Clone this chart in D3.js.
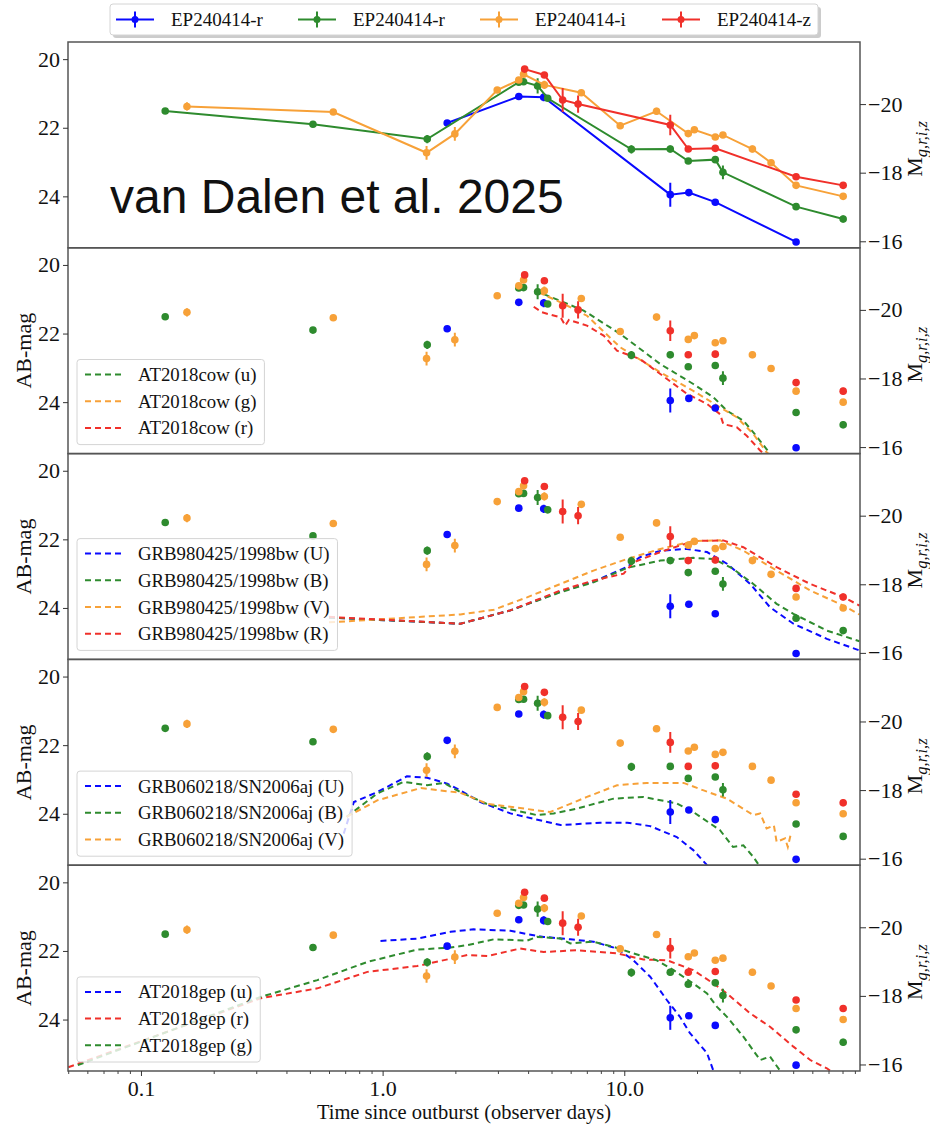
<!DOCTYPE html>
<html lang="en">
<head>
<meta charset="UTF-8">
<title>EP240414 light curves</title>
<script src="https://d3js.org/d3.v7.min.js"></script>
<style>
  body { margin: 0; background: #fff; }
  svg text { font-family: "Liberation Serif", "Times New Roman", serif; fill: #111; }
</style>
</head>
<body>
<svg id="chart"></svg>
<script>
// ---- EP240414 photometry (observer days, AB mag, 1-sigma error) ----
const blueT   = [1.85, 3.66, 4.64, 15.5, 18.5, 23.8, 51.4];
const blueMag = [21.86, 21.09, 21.11, 23.95, 23.89, 24.17, 25.33];
const blueErr = [0.03, 0.03, 0.12, 0.35, 0.05, 0.05, 0.07];

const greenT   = [0.126, 0.515, 1.53, 3.66, 3.83, 4.38, 4.82, 10.7, 15.5, 18.4, 23.8, 25.6, 51.4, 80.5];
const greenMag = [21.51, 21.9, 22.33, 20.67, 20.66, 20.78, 21.14, 22.63, 22.62, 22.97, 22.93, 23.3, 24.3, 24.66];
const greenErr = [0.06, 0.05, 0.12, 0.05, 0.05, 0.22, 0.05, 0.12, 0.1, 0.05, 0.07, 0.2, 0.05, 0.1];

const orangeT   = [0.155, 0.625, 1.52, 1.99, 2.98, 3.66, 3.83, 4.67, 6.64, 9.62, 13.6, 18.4, 19.5, 23.8, 25.6, 33.9, 40.5, 51.4, 80.5];
const orangeMag = [21.38, 21.54, 22.73, 22.18, 20.9, 20.61, 20.44, 20.75, 20.98, 21.94, 21.52, 22.17, 22.06, 22.27, 22.21, 22.62, 23.02, 23.68, 24.0];
const orangeErr = [0.12, 0.05, 0.2, 0.2, 0.04, 0.05, 0.05, 0.12, 0.05, 0.05, 0.1, 0.05, 0.05, 0.05, 0.05, 0.1, 0.05, 0.05, 0.07];

const redT   = [3.87, 4.67, 5.56, 6.44, 15.5, 18.4, 23.8, 51.4, 80.5];
const redMag = [20.29, 20.46, 21.19, 21.31, 21.92, 22.62, 22.6, 23.43, 23.68];
const redErr = [0.04, 0.05, 0.35, 0.25, 0.3, 0.05, 0.1, 0.05, 0.1];

const epLabels = ["EP240414-r", "EP240414-r", "EP240414-i", "EP240414-z"];

// ---- comparison light curves ----
const cowUt = [4.64, 6.79, 9.62, 14.1, 19.3, 23.4, 26.6, 31.1, 34.2, 38.3, 41];
const cowUm = [20.85, 21.33, 22.01, 22.89, 23.47, 23.86, 24.25, 24.54, 24.88, 25.32, 25.6];
const cowGt = [4.42, 5.45, 7.01, 9.62, 14.1, 19.3, 24.9, 29.2, 34.2, 38.8, 41];
const cowGm = [20.80, 21.09, 21.48, 22.40, 23.13, 23.67, 24.15, 24.44, 24.93, 25.46, 25.6];
const cowRt = [4.22, 4.56, 5.45, 5.7, 5.9, 7.01, 8.22, 9.33, 11.6, 14.1, 18.2, 22.0, 24.9, 25.7, 29.2, 32.1, 36.5, 39];
const cowRm = [21.22, 21.38, 21.53, 21.77, 21.6, 21.77, 22.06, 22.5, 22.74, 23.18, 23.76, 24.05, 24.35, 24.64, 24.73, 24.98, 25.41, 25.6];

const bwUt = [0.6, 2.1, 3.38, 5.45, 7.46, 10.3, 11.6, 14.1, 18.2, 22.0, 26.6, 33.2, 40.1, 50.1, 68.9, 94];
const bwUm = [24.28, 24.46, 24.07, 23.52, 23.23, 22.8, 22.52, 22.33, 22.28, 22.37, 22.71, 23.3, 23.98, 24.46, 24.9, 25.24];
const bwBt = [0.6, 2.1, 3.38, 5.45, 7.46, 10.3, 14.1, 19.3, 23.4, 28.2, 34.2, 42.7, 50.1, 68.9, 94];
const bwBm = [24.28, 24.46, 24.07, 23.54, 23.25, 22.83, 22.62, 22.54, 22.57, 22.86, 23.3, 23.88, 24.17, 24.66, 24.97];
const bwVt = [0.6, 2.1, 2.89, 3.96, 5.45, 7.46, 10.3, 14.1, 19.3, 24.9, 31.1, 42.7, 58.8, 80.5, 94];
const bwVm = [24.42, 24.19, 24.05, 23.69, 23.3, 22.91, 22.57, 22.28, 22.05, 22.03, 22.33, 22.91, 23.49, 23.93, 24.19];
const bwRt = [0.6, 2.1, 3.38, 5.45, 7.46, 9.94, 10.9, 14.1, 19.3, 25.7, 31.1, 42.7, 58.8, 80.5, 94];
const bwRm = [24.26, 24.46, 24.07, 23.49, 23.2, 23.0, 22.67, 22.37, 22.05, 22.03, 22.23, 22.81, 23.3, 23.68, 23.93];

const ajUt = [0.69, 0.76, 0.95, 1.26, 1.53, 1.85, 2.1, 2.54, 3.38, 5.45, 7.96, 10.3, 12.8, 16.5, 19.3, 22.0];
const ajUm = [24.58, 23.66, 23.37, 22.91, 22.95, 23.12, 23.32, 23.66, 23.99, 24.33, 24.26, 24.26, 24.36, 24.68, 25.06, 25.5];
const ajBt = [0.71, 0.95, 1.22, 1.53, 1.79, 2.1, 2.71, 4.35, 5.1, 6.37, 9.02, 12.0, 16.5, 19.3, 24.9, 28.2, 31.1, 34.2, 36.5];
const ajBm = [24.09, 23.41, 23.07, 23.17, 23.1, 23.37, 23.72, 24.04, 23.99, 23.85, 23.56, 23.51, 23.7, 23.95, 24.48, 24.97, 24.92, 25.26, 25.55];
const ajVt = [0.71, 0.95, 1.44, 2.1, 2.71, 4.94, 7.01, 9.33, 12.4, 17.6, 21.3, 26.6, 34.2, 36.5, 38.8, 41.6, 42.7, 46.3, 47.5, 49.1];
const ajVm = [24.09, 23.61, 23.25, 23.39, 23.71, 23.95, 23.51, 23.17, 23.1, 23.1, 23.32, 23.56, 24.04, 23.99, 24.43, 24.34, 24.82, 24.72, 24.97, 24.53];

const gepUt = [0.98, 1.39, 1.91, 2.38, 3.38, 3.96, 4.64, 5.98, 7.46, 9.33, 10.9, 12.8, 15.0, 17.0, 18.7, 19.8, 22.0, 23.4];
const gepUm = [21.71, 21.64, 21.44, 21.37, 21.41, 21.51, 21.59, 21.66, 21.73, 21.93, 22.27, 22.75, 23.43, 23.92, 24.4, 24.6, 24.98, 25.5];
const gepRt = [0.05, 0.313, 0.537, 0.865, 1.39, 2.24, 2.71, 3.7, 4.64, 6.37, 9.33, 12.0, 15.0, 19.3, 23.4, 26.6, 33.2, 40.1, 50.1, 58.8, 68.9, 73];
const gepRm = [25.39, 23.38, 23.09, 22.61, 22.44, 22.12, 22.15, 21.93, 22.03, 21.98, 22.07, 22.25, 22.27, 22.56, 22.95, 23.24, 23.82, 24.21, 24.79, 25.18, 25.42, 25.55];
const gepGt = [0.0548, 0.313, 0.537, 0.865, 1.39, 1.91, 2.24, 2.89, 3.96, 4.35, 5.45, 5.98, 7.46, 9.02, 10.9, 13.6, 16.0, 19.3, 22.0, 24.2, 26.6, 31.1, 36.5, 40.1, 43.9];
const gepGm = [25.33, 23.34, 22.85, 22.32, 21.96, 21.9, 21.83, 21.66, 21.7, 21.59, 21.64, 21.78, 21.73, 21.88, 22.07, 22.27, 22.56, 22.95, 23.24, 23.63, 23.92, 24.5, 25.18, 25.08, 25.47];

// axis ticks
const magTicks = [20, 22, 24];
const absTicks = [-20, -18, -16];
const timeTicks = [0.1, 1, 10];
const distMod = 41.31;

// ---- layout ----
const width = 930, height = 1126;
const left = 68, right = 860;
const panelH = 205.8;
const tops = d3.range(5).map(i => 42 + i * panelH);
const bottom = tops[4] + panelH;

const cBlue = "#0a0aff", cGreen = "#2e8b2e", cOrange = "#f7a138", cRed = "#f0302a";
const epColors = [cBlue, cGreen, cOrange, cRed];

const ep = [
  {t: blueT, m: blueMag, e: blueErr},
  {t: greenT, m: greenMag, e: greenErr},
  {t: orangeT, m: orangeMag, e: orangeErr},
  {t: redT, m: redMag, e: redErr}
].map((s, i) => ({label: epLabels[i], color: epColors[i],
  pts: s.t.map((t, j) => ({t, m: s.m[j], e: s.e[j]}))}));

const zip = (t, m) => t.map((d, i) => [d, m[i]]);
const panels = [
  [],
  [
    {label: "AT2018cow (u)", color: cGreen, pts: zip(cowUt, cowUm)},
    {label: "AT2018cow (g)", color: cOrange, pts: zip(cowGt, cowGm)},
    {label: "AT2018cow (r)", color: cRed, pts: zip(cowRt, cowRm)}
  ],
  [
    {label: "GRB980425/1998bw (U)", color: cBlue, pts: zip(bwUt, bwUm)},
    {label: "GRB980425/1998bw (B)", color: cGreen, pts: zip(bwBt, bwBm)},
    {label: "GRB980425/1998bw (V)", color: cOrange, pts: zip(bwVt, bwVm)},
    {label: "GRB980425/1998bw (R)", color: cRed, pts: zip(bwRt, bwRm)}
  ],
  [
    {label: "GRB060218/SN2006aj (U)", color: cBlue, pts: zip(ajUt, ajUm)},
    {label: "GRB060218/SN2006aj (B)", color: cGreen, pts: zip(ajBt, ajBm)},
    {label: "GRB060218/SN2006aj (V)", color: cOrange, pts: zip(ajVt, ajVm)}
  ],
  [
    {label: "AT2018gep (u)", color: cBlue, pts: zip(gepUt, gepUm)},
    {label: "AT2018gep (r)", color: cRed, pts: zip(gepRt, gepRm)},
    {label: "AT2018gep (g)", color: cGreen, pts: zip(gepGt, gepGm)}
  ]
];

const svg = d3.select("#chart")
  .attr("width", width)
  .attr("height", height)
  .attr("viewBox", [0, 0, width, height]);

const x = d3.scaleLog().domain([0.0499, 94.5]).range([left, right]);

const defs = svg.append("defs");

panels.forEach((models, p) => {
  const top = tops[p];
  const y = d3.scaleLinear().domain([19.5, 25.5]).range([top, top + panelH]);
  const yAbs = d3.scaleLinear().domain([19.5 - distMod, 25.5 - distMod]).range([top, top + panelH]);
  const g = svg.append("g");

  defs.append("clipPath").attr("id", "clip" + p)
    .append("rect").attr("x", left).attr("y", top).attr("width", right - left).attr("height", panelH);

  const plot = g.append("g").attr("clip-path", `url(#clip${p})`);
  const line = d3.line().x(d => x(d[0])).y(d => y(d[1]));

  // model curves
  plot.selectAll("path.model").data(models).join("path")
    .attr("class", "model")
    .attr("fill", "none")
    .attr("stroke", d => d.color)
    .attr("stroke-width", 2)
    .attr("stroke-dasharray", "6,4")
    .attr("d", d => line(d.pts));

  // EP240414 data
  ep.forEach(s => {
    const sg = plot.append("g");
    if (p === 0) {
      sg.append("path")
        .attr("fill", "none")
        .attr("stroke", s.color)
        .attr("stroke-width", 2)
        .attr("d", d3.line().x(d => x(d.t)).y(d => y(d.m))(s.pts));
    }
    sg.selectAll("line").data(s.pts).join("line")
      .attr("x1", d => x(d.t)).attr("x2", d => x(d.t))
      .attr("y1", d => y(d.m - d.e)).attr("y2", d => y(d.m + d.e))
      .attr("stroke", s.color).attr("stroke-width", 2);
    sg.selectAll("circle").data(s.pts).join("circle")
      .attr("cx", d => x(d.t)).attr("cy", d => y(d.m))
      .attr("r", 3.8).attr("fill", s.color);
  });

  // frame
  g.append("rect")
    .attr("x", left).attr("y", top).attr("width", right - left).attr("height", panelH)
    .attr("fill", "none").attr("stroke", "#555").attr("stroke-width", 1.5);

  // left axis
  const la = g.append("g").attr("transform", `translate(${left},0)`)
    .call(d3.axisLeft(y).tickValues(magTicks).tickSize(5).tickPadding(3).tickFormat(d3.format("d")));
  la.select(".domain").remove();
  la.selectAll("text").attr("font-size", 22).attr("font-family", "Liberation Serif");
  la.selectAll("line").attr("stroke", "#333");

  // right axis (absolute magnitude)
  const ra = g.append("g").attr("transform", `translate(${right},0)`)
    .call(d3.axisRight(yAbs).tickValues(absTicks).tickSize(6).tickPadding(2).tickFormat(d3.format("d")));
  ra.select(".domain").remove();
  ra.selectAll("text").attr("font-size", 22).attr("font-family", "Liberation Serif");
  ra.selectAll("line").attr("stroke", "#333");

  const cy = top + panelH / 2;
  if (p > 0) {
    g.append("text")
      .attr("transform", `translate(31,${cy}) rotate(-90)`)
      .attr("text-anchor", "middle")
      .attr("font-size", 22)
      .text("AB-mag");
  }
  const mt = g.append("text")
    .attr("transform", `translate(922,${cy + 4}) rotate(-90)`)
    .attr("text-anchor", "middle")
    .attr("font-size", 22);
  mt.append("tspan").text("M");
  mt.append("tspan").attr("font-style", "italic").attr("font-size", 16.5)
    .attr("dy", 5).text("g,r,i,z");

  // legend for comparison curves (lower left)
  if (models.length) {
    const rowH = 26.7;
    const boxH = models.length * rowH + 5;
    const boxTop = top + panelH - 9 - boxH;
    const lg = g.append("g");
    const box = lg.append("rect")
      .attr("x", 77).attr("y", boxTop).attr("height", boxH).attr("rx", 3)
      .attr("fill", "#fff").attr("fill-opacity", 0.8)
      .attr("stroke", "#d4d4d4").attr("stroke-width", 1);
    let maxW = 0;
    models.forEach((m, i) => {
      const ry = boxTop + 15 + i * rowH;
      lg.append("line")
        .attr("x1", 85).attr("x2", 122).attr("y1", ry).attr("y2", ry)
        .attr("stroke", m.color).attr("stroke-width", 2).attr("stroke-dasharray", "6,4");
      const t = lg.append("text")
        .attr("x", 138).attr("y", ry).attr("dy", "0.35em")
        .attr("font-size", 18.8)
        .text(m.label);
      maxW = Math.max(maxW, t.node().getComputedTextLength());
    });
    box.attr("width", 138 + maxW + 8 - 77);
  }

  if (p === 0) {
    g.append("text")
      .attr("x", 110).attr("y", 213)
      .style("font-family", "'Liberation Sans', Arial, sans-serif")
      .attr("font-size", 48)
      .text("van Dalen et al. 2025");
  }
});

// bottom time axis
const minor = [];
[0.01, 0.1, 1, 10].forEach(dec => {
  for (let k = 2; k <= 9; k++) {
    const v = dec * k;
    if (v > x.domain()[0] && v < x.domain()[1]) minor.push(v);
  }
});
const bm = svg.append("g").attr("transform", `translate(0,${bottom})`)
  .call(d3.axisBottom(x).tickValues(minor).tickSize(3).tickFormat(""));
bm.select(".domain").remove();
bm.selectAll("line").attr("stroke", "#444");

const ba = svg.append("g").attr("transform", `translate(0,${bottom})`)
  .call(d3.axisBottom(x).tickValues(timeTicks).tickSize(5).tickPadding(4).tickFormat(d3.format(".1f")));
ba.select(".domain").remove();
ba.selectAll("text").attr("font-size", 22).attr("font-family", "Liberation Serif");
ba.selectAll("line").attr("stroke", "#333");

svg.append("text")
  .attr("x", (left + right) / 2).attr("y", 1119)
  .attr("text-anchor", "middle")
  .attr("font-size", 20.5)
  .text("Time since outburst (observer days)");

// top legend
const tl = svg.append("g");
tl.append("rect").attr("x", 113).attr("y", 7).attr("width", 708).attr("height", 31).attr("rx", 3)
  .attr("fill", "#999").attr("fill-opacity", 0.5);
tl.append("rect").attr("x", 110).attr("y", 4).attr("width", 708).attr("height", 31).attr("rx", 3)
  .attr("fill", "#fff").attr("stroke", "#d4d4d4");
ep.forEach((s, i) => {
  const x0 = 116 + i * 182;
  const yc = 19.5;
  tl.append("line").attr("x1", x0).attr("x2", x0 + 38).attr("y1", yc).attr("y2", yc)
    .attr("stroke", s.color).attr("stroke-width", 2);
  tl.append("line").attr("x1", x0 + 19).attr("x2", x0 + 19).attr("y1", yc - 8).attr("y2", yc + 8)
    .attr("stroke", s.color).attr("stroke-width", 2);
  tl.append("circle").attr("cx", x0 + 19).attr("cy", yc).attr("r", 3.5).attr("fill", s.color);
  tl.append("text").attr("x", x0 + 55).attr("y", yc).attr("dy", "0.35em")
    .attr("font-size", 19).text(s.label);
});
</script>
</body>
</html>
